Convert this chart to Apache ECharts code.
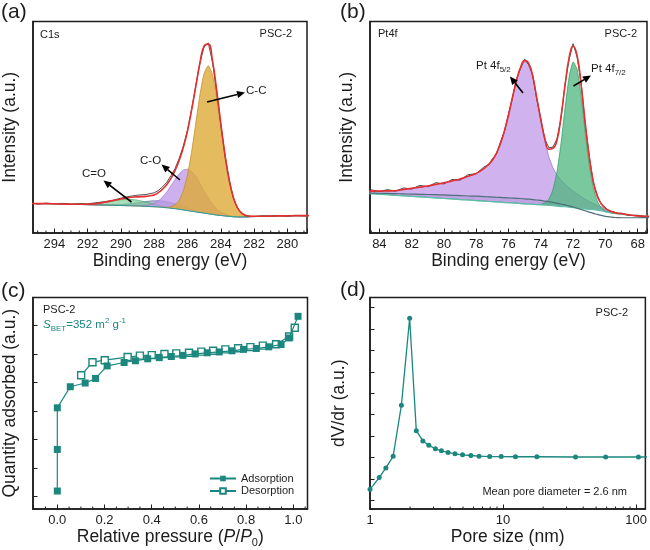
<!DOCTYPE html>
<html><head><meta charset="utf-8">
<script src="https://cdn.jsdelivr.net/npm/echarts@6/dist/echarts.min.js"></script>
<style>html,body{margin:0;padding:0;background:#fff}#c{width:650px;height:550px}</style>
</head><body><div id="c"></div>
<script>
// ---------- (a) C1s XPS ----------
const xa = [295.5,295,294.5,294,293.5,293,292.5,292,291.5,291,290.5,290,289.5,289,288.5,
  288.25,288,287.75,287.5,287.25,287,286.75,286.5,286.25,286,285.75,285.5,285.25,285,284.75,284.5,284.25,284,283.75,283.5,283.25,283,282.75,282.5,282.25,
  282,281.5,281,280.5,280,279.5,279,278.5];
const aBase = [14.0,13.9,13.9,13.8,13.7,13.6,13.5,13.4,13.3,13.2,13.1,13.0,12.9,12.8,12.6,
  12.5,12.4,12.3,12.1,11.9,11.7,11.5,11.2,10.9,10.6,10.3,10.0,9.7,9.4,9.1,8.8,8.5,8.3,8.1,7.9,7.7,7.6,7.6,7.6,7.7,
  7.8,7.9,8.0,8.1,8.1,8.2,8.2,8.2];
const aCC = [0,0,0,0,0,0,0,0,0,0,0,0,0,0,0,
  0,0,0,0.1,0.2,0.7,1.8,4.3,9.1,16.9,28.2,42.0,55.8,66.1,70.0,66.1,55.8,42.0,28.2,16.9,9.1,4.3,1.8,0.7,0.2,
  0.1,0,0,0,0,0,0,0];
const aCO = [0,0,0,0,0,0,0,0,0,0,0,0,0,0.1,0.4,
  0.9,1.6,2.9,4.9,7.4,10.5,13.8,16.7,18.8,19.5,18.8,16.7,13.8,10.5,7.4,4.9,2.9,1.6,0.9,0.4,0.2,0.1,0,0,0,
  0,0,0,0,0,0,0,0];
const aCdO = [0,0,0,0,0,0,0.1,0.2,0.6,1.2,2.0,2.7,3.0,2.7,2.0,
  1.6,1.2,0.8,0.6,0.4,0.2,0.1,0.1,0,0,0,0,0,0,0,0,0,0,0,0,0,0,0,0,0,
  0,0,0,0,0,0,0,0];
const aPi = [0,0,0,0,0,0,0,0,0,0.1,0.2,0.4,0.9,1.5,2.3,
  2.6,2.8,3.0,3.0,2.9,2.6,2.3,2.0,1.6,1.2,0.9,0.6,0.4,0.3,0.2,0.1,0.1,0,0,0,0,0,0,0,0,
  0,0,0,0,0,0,0,0];
const aRaw = [14.3,13.7,14.1,13.9,14.0,13.5,13.9,13.8,14.3,14.8,15.4,16.5,17.3,17.9,18.2,
  18.6,19.0,20.1,21.8,23.9,27.0,30.4,35.2,41.1,48.6,58.5,69.8,80.5,88.0,89.8,81.0,66.8,51.5,37.0,25.6,16.8,11.7,9.6,8.1,8.0,
  7.7,8.1,7.9,8.3,8.0,8.3,8.1,8.3];
const aFit = [14.0,13.9,13.9,13.8,13.7,13.6,13.6,13.6,13.9,14.5,15.3,16.1,16.8,17.1,17.3,
  17.6,18.0,19.1,20.7,22.8,25.7,29.5,34.3,40.4,48.2,58.2,69.3,80.5,88.5,89.3,81.5,67.8,51.9,37.2,25.2,17.0,12.0,9.4,8.3,7.9,
  7.9,7.9,8.0,8.1,8.1,8.2,8.2,8.2];

// ---------- (b) Pt4f XPS ----------
const xb = [85,84.5,84,83.5,83,82.5,82,81.5,81,80.5,80,79.5,79,78.5,78,77.5,
  77.25,77,76.75,76.5,76.25,76,75.75,75.5,75.25,75,74.75,74.5,74.25,74,73.75,73.5,73.25,73,72.75,72.5,72.25,72,71.75,71.5,71.25,71,70.75,70.5,70.25,70,69.75,69.5,69.25,
  69,68.5,68,67.5,67];
const bBase = [18.8,18.6,18.3,18.1,17.8,17.6,17.3,17.1,16.8,16.6,16.3,16.1,15.8,15.6,15.3,15.1,
  14.9,14.8,14.7,14.6,14.4,14.3,14.2,14.1,13.9,13.8,13.7,13.6,13.4,13.3,13.2,13.0,12.9,12.7,12.5,12.4,12.2,12.0,11.8,11.6,11.4,11.2,11.0,10.8,10.5,10.0,9.6,9.3,9.1,
  8.9,8.4,8.1,7.9,7.8];
const bShirley = [19.0,18.9,18.8,18.7,18.6,18.5,18.4,18.3,18.2,18.1,18.0,17.8,17.7,17.5,17.4,17.2,
  17.1,17.0,16.9,16.8,16.7,16.6,16.5,16.4,16.3,16.1,16.0,15.8,15.6,15.4,15.1,14.8,14.5,14.1,13.7,13.3,12.8,12.3,11.7,11.1,10.5,9.9,9.3,8.8,8.3,7.9,7.6,7.4,7.3,
  7.2,7.2,7.2,7.3,7.4];
const bPt52 = [1.0,1.2,1.5,1.8,2.2,3.0,3.8,4.6,5.4,6.4,7.4,8.5,9.7,11.2,12.9,15.5,
  17.4,19.6,23.0,27.7,34.0,41.4,50.1,58.1,64.4,67.3,66.3,60.5,50.5,40.0,30.5,23.0,18.0,14.8,12.6,10.8,9.2,7.8,6.6,5.6,4.6,3.8,3.0,2.3,1.8,1.2,0.8,0.5,0.3,
  0.2,0.1,0,0,0];
const bPt72 = [0,0,0,0,0,0,0,0,0,0,0,0,0,0,0,0,
  0,0,0,0,0,0,0,0,0,0,0,0,0,0.3,1.0,2.9,7.5,16.2,29.7,46.3,61.3,68.8,65.5,52.9,36.2,21.0,10.4,4.3,1.5,0.5,0.2,0,0,
  0,0,0,0,0];
const bRaw = [19.3,20.4,19.6,20.5,19.8,21.3,20.8,22.5,21.9,23.8,23.2,25.3,25.0,27.6,28.0,31.4,
  32.0,35.1,37.2,43.0,48.0,56.4,64.0,72.9,78.0,82.3,79.5,74.8,63.4,54.2,44.3,40.3,40.6,44.4,54.2,70.3,82.0,89.5,83.2,70.8,51.6,36.7,24.0,17.9,13.5,12.0,10.3,10.1,9.2,
  9.4,8.3,8.4,7.7,8.0];
const bFit = [19.8,19.8,19.8,19.9,20.0,20.6,21.1,21.7,22.2,23.0,23.7,24.6,25.5,26.8,28.2,30.6,
  32.3,34.4,37.7,42.3,48.4,55.7,64.3,72.2,78.3,81.5,80.2,74.1,63.9,53.6,44.7,39.6,40.0,43.7,54.8,69.5,82.7,88.4,83.9,70.1,52.2,36.0,24.4,17.4,13.8,11.7,10.6,9.8,9.4,
  9.1,8.5,8.1,7.9,7.8];

// ---------- (c) N2 isotherm ----------
const adsP = [0,0,0,0.055,0.118,0.162,0.211,0.283,0.331,0.383,0.432,0.483,0.532,0.584,0.635,0.686,0.740,0.789,0.843,0.896,0.948,0.982,1.02];
const adsQ = [0.2,1.66,3.12,3.86,3.99,4.15,4.59,4.71,4.77,4.84,4.88,4.92,4.96,5.01,5.05,5.08,5.12,5.17,5.20,5.26,5.34,5.57,6.33];
const desP = [1.006,0.982,0.927,0.871,0.818,0.766,0.712,0.660,0.610,0.558,0.504,0.454,0.400,0.350,0.298,0.201,0.149,0.101];
const desQ = [5.93,5.62,5.35,5.30,5.25,5.21,5.17,5.12,5.09,5.05,5.03,5.01,4.97,4.95,4.90,4.79,4.72,4.26];

// ---------- (d) pore size distribution ----------
const poreD = [1.0,1.173,1.316,1.492,1.722,1.986,2.228,2.496,2.767,3.10,3.44,3.86,4.35,4.96,5.73,6.60,7.93,9.68,12.39,17.95,35.05,59.0,104.0,180.0];
const poreV = [0.51,1.06,1.51,2.05,4.44,8.50,3.25,2.77,2.57,2.40,2.31,2.23,2.17,2.12,2.09,2.06,2.04,2.04,2.03,2.03,2.02,2.02,2.02,2.02];

// ---------- minor tick positions ----------
const minorA = [279,279.5,280.5,281,281.5,282.5,283,283.5,284.5,285,285.5,286.5,287,287.5,288.5,289,289.5,290.5,291,291.5,292.5,293,293.5,294.5,295];
const minorB = [67.5,68.5,69,69.5,70.5,71,71.5,72.5,73,73.5,74.5,75,75.5,76.5,77,77.5,78.5,79,79.5,80.5,81,81.5,82.5,83,83.5,84.5];
const minorC = [-0.05,0.05,0.1,0.15,0.25,0.3,0.35,0.45,0.5,0.55,0.65,0.7,0.75,0.85,0.9,0.95,1.05];
const minorD = [2,3,4,5,6,7,8,9,20,30,40,50,60,70,80,90];

// ---------- styling ----------
const FF = '"Liberation Sans", Arial, Helvetica, sans-serif';
const INK = '#1c1c1c';
const TEAL = '#1B877E';

function pairs(xs, ys) { return xs.map((x, i) => [x, ys[i]]); }
function addArr(a, b) { return a.map((v, i) => v + b[i]); }
function maxArr(a, b) { return a.map((v, i) => Math.max(v, b[i])); }

function band(gi, xs, lower, upper, fill, stroke) {
  return {
    type: 'custom', xAxisIndex: gi, yAxisIndex: gi, silent: true, z: 2,
    data: [[xs[Math.floor(xs.length / 2)], lower[Math.floor(xs.length / 2)]]],
    renderItem: function (params, api) {
      const top = [], bot = [];
      for (let i = 0; i < xs.length; i++) {
        top.push(api.coord([xs[i], upper[i]]));
        bot.push(api.coord([xs[i], lower[i]]));
      }
      const cs = params.coordSys;
      const kids = [{ type: 'polygon', shape: { points: top.concat(bot.slice().reverse()), smooth: 0.2 }, style: { fill: fill } }];
      if (stroke) kids.push({ type: 'polyline', shape: { points: top, smooth: 0.2 }, style: { stroke: stroke, lineWidth: 0.8, fill: null } });
      return { type: 'group', clipPath: { type: 'rect', shape: { x: cs.x, y: cs.y, width: cs.width, height: cs.height } }, children: kids };
    }
  };
}
function lineS(gi, xs, ys, color, width, smooth, z) {
  return { type: 'line', xAxisIndex: gi, yAxisIndex: gi, data: pairs(xs, ys), showSymbol: false, symbol: 'none',
    smooth: smooth, lineStyle: { color: color, width: width }, z: z || 3, silent: true, clip: true };
}
function minorTicks(gi, vals, yMin, len) {
  return { type: 'custom', xAxisIndex: gi, yAxisIndex: gi, silent: true, z: 20,
    data: vals.map(v => [v, yMin]),
    renderItem: function (params, api) {
      const p = api.coord([api.value(0), api.value(1)]);
      return { type: 'line', shape: { x1: p[0], y1: p[1] - 0.5, x2: p[0], y2: p[1] - len }, style: { stroke: INK, lineWidth: 1 } };
    } };
}

const tickStyle = { color: INK, width: 1 };
const axLine = { show: true, onZero: false, lineStyle: { color: INK, width: 1.5 } };
const nameStyle = { fontSize: 17.5, color: INK, fontFamily: FF };
const labStyle = { fontSize: 13, color: INK, fontFamily: FF, margin: 5 };

function xpsX(min, max, name) {
  return { type: 'value', min: min, max: max, inverse: true, splitNumber: 8, splitLine: { show: false },
    axisLine: axLine, axisTick: { inside: true, length: 4.5, lineStyle: tickStyle },
    minorTick: { show: false },
    axisLabel: Object.assign({}, labStyle, { formatter: function (v) { return (Math.abs(v - Math.round(v)) < 1e-6 && Math.round(v) % 2 === 0) ? String(Math.round(v)) : ''; } }),
    name: name, nameLocation: 'middle', nameGap: 17, nameTextStyle: nameStyle };
}
function hiddenY(min, max, name, ticks, split, gap) {
  return { type: 'value', min: min, max: max, splitNumber: split || 5, splitLine: { show: false },
    axisLine: axLine, axisLabel: { show: false },
    axisTick: { show: ticks, inside: true, length: 4.5, lineStyle: tickStyle },
    name: name, nameLocation: 'middle', nameGap: gap, nameTextStyle: nameStyle };
}

const option = {
  animation: false,
  backgroundColor: '#fff',
  textStyle: { fontFamily: FF },
  grid: [
    { left: 32, top: 21.5, width: 275, height: 211.5, show: true, borderColor: INK, borderWidth: 1.5 },
    { left: 370, top: 21.5, width: 277.5, height: 211.5, show: true, borderColor: INK, borderWidth: 1.5 },
    { left: 31.5, top: 297.5, width: 276, height: 211.5, show: true, borderColor: INK, borderWidth: 1.5 },
    { left: 370, top: 297.5, width: 277.5, height: 211.5, show: true, borderColor: INK, borderWidth: 1.5 }
  ],
  xAxis: [
    Object.assign(xpsX(278.82, 295.28, 'Binding energy (eV)'), { gridIndex: 0 }),
    Object.assign(xpsX(67.42, 84.58, 'Binding energy (eV)'), { gridIndex: 1 }),
    { gridIndex: 2, type: 'value', min: -0.103, max: 1.06, splitNumber: 6, splitLine: { show: false }, axisLine: axLine,
      axisTick: { inside: true, length: 4.5, lineStyle: tickStyle },
      axisLabel: Object.assign({}, labStyle, { formatter: function (v) { const k = v / 0.2; return Math.abs(k - Math.round(k)) < 1e-6 ? (Math.round(k) * 0.2).toFixed(1) : ''; } }),
      name: 'Relative pressure ({i|P}/{i|P}{sub|0})', nameLocation: 'middle', nameGap: 17,
      nameTextStyle: Object.assign({}, nameStyle, { rich: {
        i: { fontStyle: 'italic', fontSize: 17.5, fontFamily: FF, color: INK },
        sub: { fontSize: 11, fontFamily: FF, color: INK, verticalAlign: 'bottom', lineHeight: 22 } } }) },
    { gridIndex: 3, type: 'log', logBase: 10, min: 1, max: 117.3, splitLine: { show: false }, axisLine: axLine,
      axisTick: { inside: true, length: 4.5, lineStyle: tickStyle },
      axisLabel: Object.assign({}, labStyle, { formatter: function (v) { const l = Math.log10(v); return Math.abs(l - Math.round(l)) < 1e-6 ? String(Math.round(v)) : ''; } }),
      name: 'Pore size (nm)', nameLocation: 'middle', nameGap: 17, nameTextStyle: nameStyle }
  ],
  yAxis: [
    Object.assign(hiddenY(0, 100, 'Intensity (a.u.)', false, 5, 14), { gridIndex: 0 }),
    Object.assign(hiddenY(0, 100, 'Intensity (a.u.)', false, 5, 14), { gridIndex: 1 }),
    Object.assign(hiddenY(-0.43, 6.99, 'Quantity adsorbed (a.u.)', true, 7, 14), { gridIndex: 2 }),
    Object.assign(hiddenY(-0.41, 9.47, 'dV/dr (a.u.)', true, 10, 22), { gridIndex: 3 })
  ],
  legend: {
    data: ['Adsorption', 'Desorption'], orient: 'vertical', left: 209, top: 473, padding: 0,
    itemWidth: 26, itemHeight: 7, itemGap: 1.5, textStyle: { fontSize: 11, color: INK, fontFamily: FF }
  },
  series: [
    // (a)
    band(0, xa, aBase, addArr(aBase, aPi), 'rgba(125,135,185,0.55)', 'rgba(100,110,160,0.9)'),
    band(0, xa, aBase, addArr(aBase, aCdO), 'rgba(110,200,140,0.6)', 'rgba(80,170,110,0.9)'),
    band(0, xa, aBase, addArr(aBase, aCO), 'rgba(190,150,232,0.75)', 'rgba(160,120,210,0.9)'),
    band(0, xa, aBase, addArr(aBase, aCC), 'rgba(222,170,55,0.8)', 'rgba(190,140,40,0.9)'),
    lineS(0, xa, aBase, '#2E9A98', 1, false, 4),
    lineS(0, xa, aRaw, '#3a3a3a', 0.9, false, 5),
    lineS(0, xa, aFit, '#E3302F', 1.6, true, 6),
    minorTicks(0, minorA, 0, 2.5),
    // (b)
    band(1, xb, bBase, maxArr(bShirley, bBase), 'rgba(95,95,145,0.35)', null),
    band(1, xb, bBase, addArr(bBase, bPt52), 'rgba(190,150,232,0.72)', 'rgba(150,110,200,0.9)'),
    band(1, xb, bBase, addArr(bBase, bPt72), 'rgba(70,180,120,0.72)', 'rgba(50,150,100,0.9)'),
    lineS(1, xb, bBase, '#5CC0A8', 1.2, false, 4),
    lineS(1, xb, bShirley, '#4E6F78', 1.2, true, 4),
    lineS(1, xb, bRaw, '#333333', 0.9, false, 5),
    lineS(1, xb, bFit, '#E3302F', 1.6, true, 6),
    minorTicks(1, minorB, 0, 2.5),
    // (c)
    { name: 'Adsorption', type: 'line', xAxisIndex: 2, yAxisIndex: 2, data: pairs(adsP, adsQ), symbol: 'rect', symbolSize: 7,
      itemStyle: { color: TEAL }, lineStyle: { color: TEAL, width: 1.2 }, z: 5 },
    { name: 'Desorption', type: 'line', xAxisIndex: 2, yAxisIndex: 2, data: pairs(desP, desQ), symbol: 'rect', symbolSize: 7,
      itemStyle: { color: '#fff', borderColor: TEAL, borderWidth: 1.4 }, lineStyle: { color: TEAL, width: 1.2 }, z: 4 },
    minorTicks(2, minorC, -0.43, 2.5),
    // (d)
    { name: 'PSD', type: 'line', xAxisIndex: 3, yAxisIndex: 3, data: pairs(poreD, poreV), symbol: 'circle', symbolSize: 5,
      showAllSymbol: true, itemStyle: { color: TEAL }, lineStyle: { color: TEAL, width: 1.3 }, z: 5 },
    minorTicks(3, minorD, -0.41, 2.5)
  ],
  graphic: { elements: [] }
};

// ---------- annotations ----------
const G = option.graphic.elements;
function txt(x, y, s, size, align, color, rich) {
  G.push({ type: 'text', x: x, y: y, silent: true, z: 100,
    style: { text: s, fill: color || INK, fontSize: size, fontFamily: FF, align: align || 'left', textAlign: align || 'left',
      verticalAlign: 'middle', textVerticalAlign: 'middle', rich: rich } });
}
function arrow(x1, y1, x2, y2) {
  const a = Math.atan2(y2 - y1, x2 - x1), L = 8, W = 3.6;
  const bx = x2 - L * Math.cos(a), by = y2 - L * Math.sin(a);
  const px = -Math.sin(a) * W, py = Math.cos(a) * W;
  G.push({ type: 'line', silent: true, z: 100, shape: { x1: x1, y1: y1, x2: bx, y2: by }, style: { stroke: '#000', lineWidth: 1.6 } });
  G.push({ type: 'polygon', silent: true, z: 100, shape: { points: [[x2, y2], [bx + px, by + py], [bx - px, by - py]] }, style: { fill: '#000' } });
}
const subRich = {
  sub: { fontSize: 8, fontFamily: FF, fill: INK, verticalAlign: 'bottom', lineHeight: 16 },
  sup: { fontSize: 8, fontFamily: FF, fill: INK, verticalAlign: 'top', lineHeight: 16 },
  n: { fontSize: 11.5, fontFamily: FF, fill: INK, lineHeight: 16 }
};
const tealRich = {
  i: { fontSize: 11.5, fontFamily: FF, fill: TEAL, fontStyle: 'italic', lineHeight: 16 },
  n: { fontSize: 11.5, fontFamily: FF, fill: TEAL, lineHeight: 16 },
  sub: { fontSize: 8, fontFamily: FF, fill: TEAL, verticalAlign: 'bottom', lineHeight: 16 },
  sup: { fontSize: 8, fontFamily: FF, fill: TEAL, verticalAlign: 'top', lineHeight: 16 }
};

txt(1, 12, '(a)', 21); txt(340, 12, '(b)', 21); txt(1, 291, '(c)', 21); txt(340, 290, '(d)', 21);
// (a)
txt(40, 35, 'C1s', 11); txt(292, 34, 'PSC-2', 11, 'right');
txt(246, 91, 'C-C', 11.5); txt(140, 161, 'C-O', 11.5); txt(82, 174, 'C=O', 11.5);
arrow(207, 102, 245, 92.5); arrow(180, 180, 161.5, 164.5); arrow(131.5, 202, 103.5, 180.5);
// (b)
txt(378, 34, 'Pt4f', 11); txt(637, 34, 'PSC-2', 11, 'right');
txt(476, 66, '{n|Pt 4f}{sub|5/2}', 11.5, 'left', INK, subRich);
txt(591, 69, '{n|Pt 4f}{sub|7/2}', 11.5, 'left', INK, subRich);
arrow(523, 93, 510, 76.5); arrow(573.5, 86, 591, 75.5);
// (c)
txt(43, 310, 'PSC-2', 11);
txt(43, 325, '{i|S}{sub|BET}{n|=352 m}{sup|2}{n| g}{sup|-1}', 11.5, 'left', TEAL, tealRich);
// (d)
txt(628, 313, 'PSC-2', 11, 'right');
txt(627, 492, 'Mean pore diameter = 2.6 nm', 11, 'right');

const chart = echarts.init(document.getElementById('c'), null, { renderer: 'canvas' });
chart.setOption(option);
</script></body></html>
